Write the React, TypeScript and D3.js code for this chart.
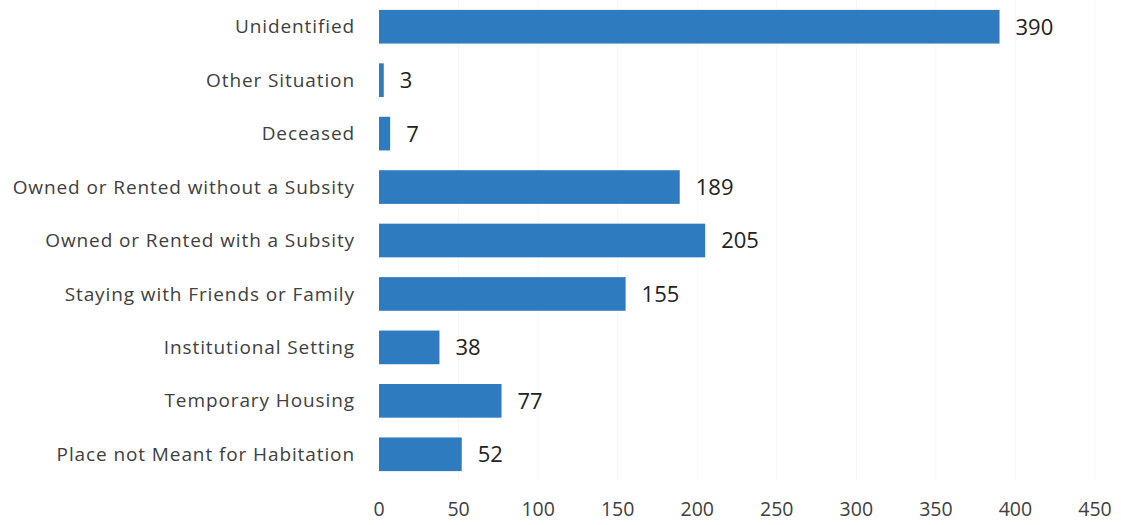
import React from "react";
import * as d3 from "d3";

const categories = [
  "Unidentified",
  "Other Situation",
  "Deceased",
  "Owned or Rented without a Subsity",
  "Owned or Rented with a Subsity",
  "Staying with Friends or Family",
  "Institutional Setting",
  "Temporary Housing",
  "Place not Meant for Habitation",
];
const values = [390, 3, 7, 189, 205, 155, 38, 77, 52];
const ticks = [0, 50, 100, 150, 200, 250, 300, 350, 400, 450];

const W = 1121;
const H = 525;

export default function App() {
  const x = d3.scaleLinear().domain([0, 450]).range([379, 1095]);
  const y = d3
    .scaleBand<string>()
    .domain(categories)
    .range([0, 481])
    .paddingInner(0.37)
    .paddingOuter(0.185);
  const font = "'Open Sans', 'Liberation Sans', sans-serif";
  return (
    <svg
      width={W}
      height={H}
      style={{ position: "absolute", left: 0, top: 0, display: "block", background: "#fff" }}
      fontFamily={font}
    >
      <g>
        {ticks.slice(1).map((t) => (
          <line key={t} x1={x(t)} x2={x(t)} y1={0} y2={481} stroke="#f7f7f7" strokeWidth={1} />
        ))}
      </g>
      {categories.map((c, i) => {
        const yy = y(c)!;
        const bw = y.bandwidth();
        return (
          <g key={c}>
            <rect x={x(0)} y={yy} width={x(values[i]) - x(0)} height={bw} fill="#2f7bbf" />
            <text
              x={355}
              y={yy + bw / 2}
              dy="0.35em"
              textAnchor="end"
              fontSize={19}
              letterSpacing={0.9}
              fill="#404040"
            >
              {c}
            </text>
            <text x={x(values[i]) + 16} y={yy + bw / 2} dy="0.36em" fontSize={22} fill="#222">
              {values[i]}
            </text>
          </g>
        );
      })}
      {ticks.map((t) => (
        <text key={t} x={x(t)} y={509} dy="0.35em" textAnchor="middle" fontSize={19.5} fill="#404040">
          {t}
        </text>
      ))}
    </svg>
  );
}
